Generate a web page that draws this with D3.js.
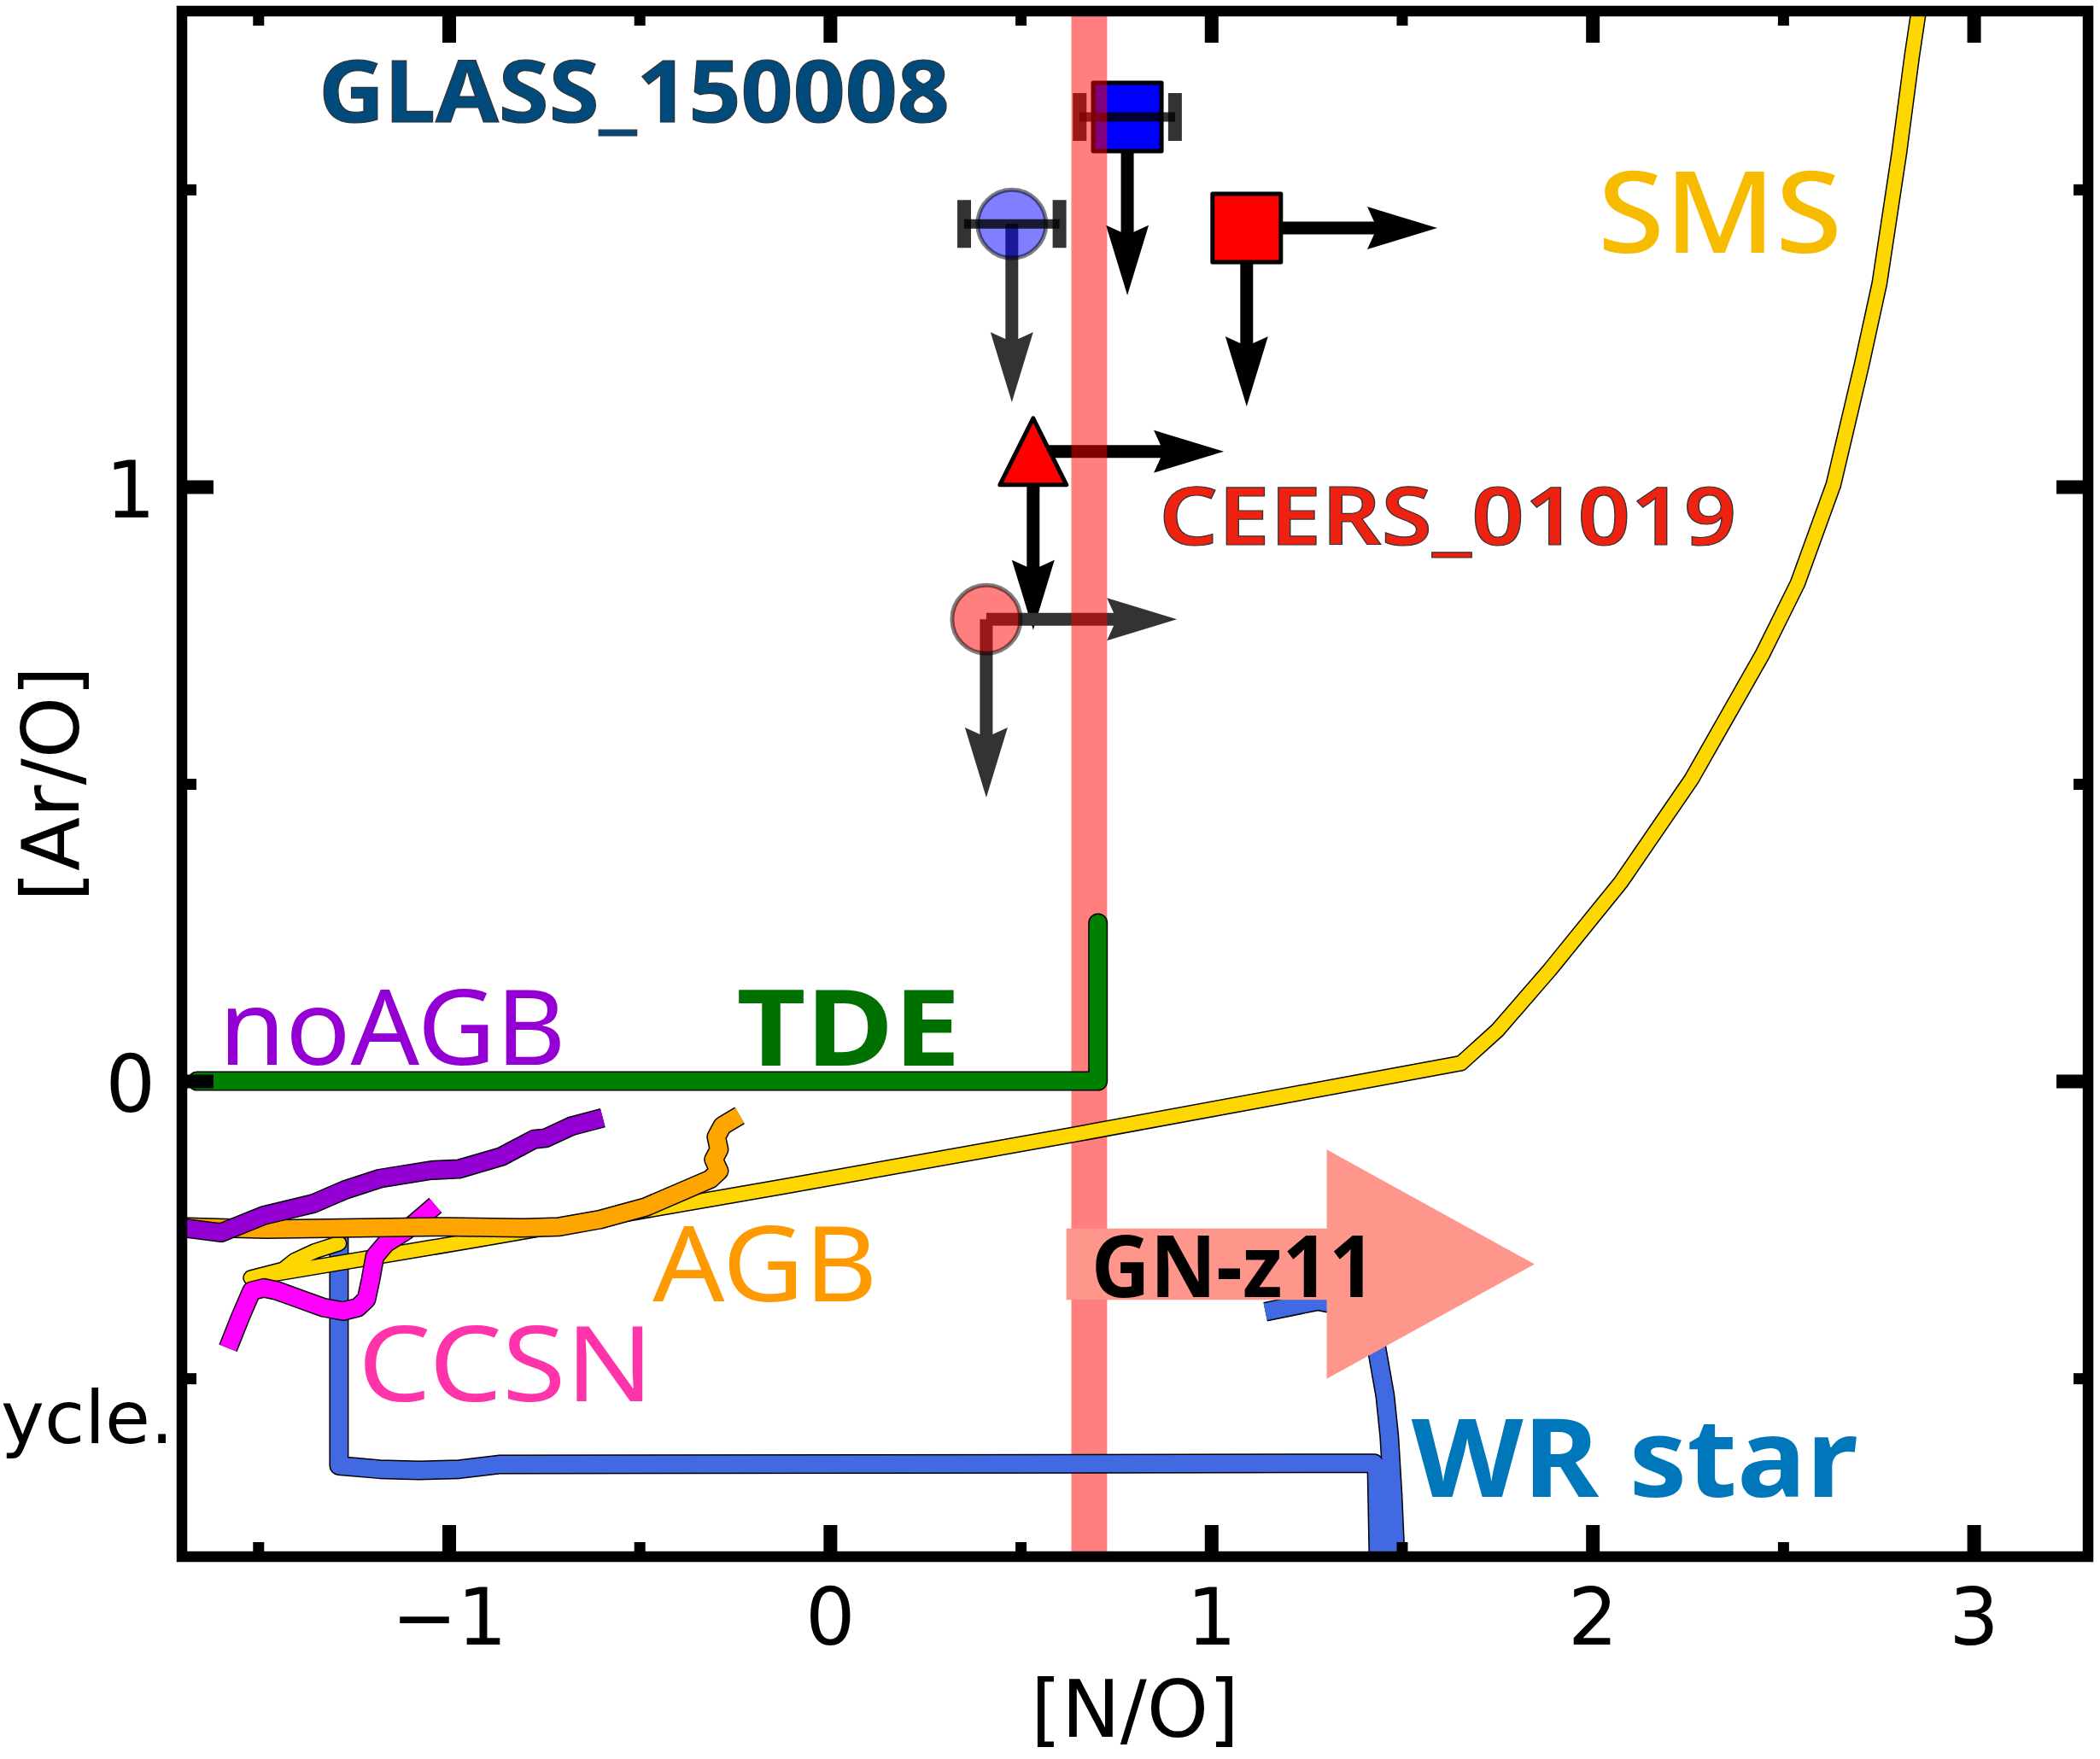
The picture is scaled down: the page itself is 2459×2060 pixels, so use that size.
<!DOCTYPE html>
<html>
<head>
<meta charset="utf-8">
<script src="https://cdn.jsdelivr.net/npm/d3@7"></script>
<style>
  html, body { margin: 0; padding: 0; background: #fff; }
  svg { display: block; }
</style>
</head>
<body>
<svg id="chart" width="2459" height="2060"></svg>
<script>
// ---- axis ticks ----
const xMajorTicks = [-1, 0, 1, 2, 3];
const xMinorTicks = [-1.5, -0.5, 0.5, 1.5, 2.5];
const yMajorTicks = [0, 1];
const yMinorTicks = [-0.5, 0.5, 1.5];

// ---- model tracks, [N/O] vs [Ar/O] ----
const tdeTrack = [[-1.66, 0], [0.703, 0], [0.703, 0.266]];

const smsTrack = [
  [-1.288, -0.273], [-1.351, -0.286], [-1.405, -0.302], [-1.434, -0.317], [-1.519, -0.331],
  [-0.925, -0.267], [-0.119, -0.177], [0.632, -0.091], [1.655, 0.030],
  [1.750, 0.085], [1.888, 0.187], [2.074, 0.334], [2.260, 0.508], [2.446, 0.718],
  [2.538, 0.837], [2.632, 1.003], [2.706, 1.204], [2.753, 1.342], [2.805, 1.563],
  [2.838, 1.724], [2.856, 1.801], [2.868, 1.900]
];

const agbTrack = [
  [-1.72, -0.245], [-1.478, -0.249], [-1.001, -0.245], [-0.806, -0.247], [-0.710, -0.245],
  [-0.605, -0.233], [-0.484, -0.212], [-0.314, -0.165], [-0.291, -0.151], [-0.305, -0.132],
  [-0.291, -0.115], [-0.298, -0.094], [-0.282, -0.075], [-0.237, -0.058]
];

const noAgbTrack = [
  [-1.72, -0.245], [-1.597, -0.255], [-1.485, -0.226], [-1.355, -0.206], [-1.272, -0.183],
  [-1.181, -0.164], [-1.046, -0.150], [-0.974, -0.148], [-0.862, -0.127], [-0.777, -0.098],
  [-0.746, -0.096], [-0.679, -0.076], [-0.596, -0.062]
];

const ccsnTrack = [
  [-1.579, -0.449], [-1.546, -0.396], [-1.517, -0.353], [-1.485, -0.348], [-1.449, -0.353],
  [-1.389, -0.367], [-1.328, -0.381], [-1.277, -0.387], [-1.239, -0.381], [-1.216, -0.367],
  [-1.205, -0.334], [-1.194, -0.295], [-1.165, -0.273], [-1.113, -0.252], [-1.035, -0.209]
];

const wrTrack = [
  [-1.288, -0.25], [-1.288, -0.647], [-1.181, -0.653], [-1.078, -0.655], [-0.972, -0.653],
  [-0.869, -0.645], [1.427, -0.643], [1.434, -0.650], [1.440, -0.85], [1.485, -0.85],
  [1.483, -0.794], [1.476, -0.693], [1.467, -0.597], [1.456, -0.529], [1.434, -0.449],
  [1.400, -0.385], [1.280, -0.370], [1.142, -0.388]
];

// ---- GN-z11 ----
const gnz11Band = [0.633, 0.727];
const gnz11Arrow = { x0: 0.62, x1: 1.848, y: -0.308, body: 0.06, head: 0.193, headLen: 0.545 };

// ---- galaxies: [N/O], [Ar/O], N/O error, limits ----
const obsNames   = ["GLASS_150008", "GLASS_150008", "CEERS_01019", "CEERS_01019", "CEERS_01019"];
const obsNO      = [0.78, 0.477, 1.093, 0.533, 0.41];
const obsArO     = [1.622, 1.442, 1.435, 1.059, 0.777];
const obsNOerr   = [0.125, 0.125, 0, 0, 0];
const obsNOlower = [false, false, true, true, true];
const obsArOupper = [true, true, true, true, true];
const obsMarker  = ["square", "circle", "square", "triangle", "circle"];
const obsFill    = ["#0000ff", "rgba(0,0,255,0.5)", "#ff0000", "#ff0000", "rgba(255,0,0,0.5)"];
const obsEdge    = ["#000", "rgba(0,0,0,0.5)", "#000", "#000", "rgba(0,0,0,0.5)"];
const obsArrowColor = ["#000", "#333", "#000", "#000", "#333"];
const limitLenNO = 0.5;
const limitLenArO = 0.3;

// ---- scales ----
const plot = { left: 213, right: 2445, top: 13, bottom: 1823 };
const x = d3.scaleLinear().domain([-1.7, 3.3]).range([plot.left, plot.right]);
const y = d3.scaleLinear().domain([-0.8, 1.8]).range([plot.bottom, plot.top]);

const svg = d3.select("#chart");
svg.append("rect").attr("width", 2459).attr("height", 2060).attr("fill", "#fff");

svg.append("defs").append("clipPath").attr("id", "plot-clip")
  .append("rect")
  .attr("x", plot.left).attr("y", plot.top)
  .attr("width", plot.right - plot.left).attr("height", plot.bottom - plot.top);

const body = svg.append("g").attr("clip-path", "url(#plot-clip)");

// arrow outline with notched head, in pixels
function arrowPoints(x0, y0, x1, y1) {
  const L = Math.hypot(x1 - x0, y1 - y0);
  const ux = (x1 - x0) / L, uy = (y1 - y0) / L, nx = -uy, ny = ux;
  const hw = 7.5, W = 25, H = 82, notch = 8;
  const P = (a, b) => [x0 + ux * a + nx * b, y0 + uy * a + ny * b];
  return [P(0, hw), P(L - H + notch, hw), P(L - H, W), P(L, 0), P(L - H, -W), P(L - H + notch, -hw), P(0, -hw)];
}

const obs = obsNO.map((v, i) => ({
  name: obsNames[i], no: v, ar: obsArO[i], err: obsNOerr[i],
  lower: obsNOlower[i], upper: obsArOupper[i], marker: obsMarker[i],
  fill: obsFill[i], edge: obsEdge[i], arrow: obsArrowColor[i]
}));

// limit arrows (beneath the markers)
const arrowsG = body.append("g");
obs.forEach(d => {
  const cx = x(d.no), cy = y(d.ar);
  if (d.upper) {
    arrowsG.append("polygon")
      .attr("points", arrowPoints(cx, cy, cx, y(d.ar - limitLenArO)).join(" "))
      .attr("fill", d.arrow);
  }
  if (d.lower) {
    arrowsG.append("polygon")
      .attr("points", arrowPoints(cx, cy, x(d.no + limitLenNO), cy).join(" "))
      .attr("fill", d.arrow);
  }
});

// markers
const markG = body.append("g");
obs.forEach(d => {
  const cx = x(d.no), cy = y(d.ar);
  let m;
  if (d.marker === "square") {
    m = markG.append("rect").attr("x", cx - 40).attr("y", cy - 40).attr("width", 80).attr("height", 80);
  } else if (d.marker === "circle") {
    m = markG.append("circle").attr("cx", cx).attr("cy", cy).attr("r", 40);
  } else {
    const s = 39;
    m = markG.append("polygon").attr("points", [[cx, cy - s], [cx + s, cy + s], [cx - s, cy + s]].join(" "));
  }
  m.attr("fill", d.fill).attr("stroke", d.edge).attr("stroke-width", 5).attr("stroke-linejoin", "round");
});

// N/O error bars
const errG = body.append("g").attr("stroke", "rgba(0,0,0,0.8)");
obs.filter(d => d.err > 0).forEach(d => {
  const cy = y(d.ar), xl = x(d.no - d.err), xr = x(d.no + d.err);
  errG.append("line").attr("x1", xl).attr("x2", xr).attr("y1", cy).attr("y2", cy).attr("stroke-width", 11);
  [xl, xr].forEach(xc => {
    errG.append("line").attr("x1", xc).attr("x2", xc).attr("y1", cy - 28).attr("y2", cy + 28).attr("stroke-width", 16);
  });
});

// GN-z11 N/O band
body.append("rect")
  .attr("x", x(gnz11Band[0])).attr("width", x(gnz11Band[1]) - x(gnz11Band[0]))
  .attr("y", plot.top).attr("height", plot.bottom - plot.top)
  .attr("fill", "#ff0000").attr("fill-opacity", 0.5);

// model tracks
const line = d3.line().x(d => x(d[0])).y(d => y(d[1]));
function track(data, color, width, cap) {
  const g = body.append("g").attr("fill", "none").attr("stroke-linejoin", "round").attr("stroke-linecap", cap);
  g.append("path").attr("d", line(data)).attr("stroke", "#000").attr("stroke-width", width + 3);
  g.append("path").attr("d", line(data)).attr("stroke", color).attr("stroke-width", width);
}
track(wrTrack, "#4169e1", 20, "butt");
track(smsTrack, "#ffd700", 16, "round");
track(ccsnTrack, "#ff00ff", 20, "butt");
track(agbTrack, "#ffa500", 20, "butt");
track(noAgbTrack, "#9400d3", 20, "butt");
track(tdeTrack, "#008000", 20, "round");

// GN-z11 lower-limit arrow
const a = gnz11Arrow;
const hb = a.x1 - a.headLen;
body.append("polygon")
  .attr("points", [
    [a.x0, a.y + a.body], [hb, a.y + a.body], [hb, a.y + a.head], [a.x1, a.y],
    [hb, a.y - a.head], [hb, a.y - a.body], [a.x0, a.y - a.body]
  ].map(p => [x(p[0]), y(p[1])]).join(" "))
  .attr("fill", "#fe968b");

// text labels
const labels = [
  { text: "GLASS_150008", x: -1.335, y: 1.613, size: 100, weight: 700, color: "#004a7c", ink: 733, edge: true },
  { text: "CEERS_01019", x: 0.869, y: 0.902, size: 94, weight: 600, color: "#ee2211", ink: 671, edge: true },
  { text: "SMS", x: 2.023, y: 1.393, size: 132, weight: 500, color: "#f7bb00", ink: 278, edge: false },
  { text: "TDE", x: -0.237, y: 0.026, size: 123, weight: 700, color: "#007000", ink: 255, edge: false },
  { text: "noAGB", x: -1.595, y: 0.027, size: 123, weight: 400, color: "#9400d3", ink: 399, edge: false },
  { text: "AGB", x: -0.457, y: -0.371, size: 123, weight: 400, color: "#ff9900", ink: 256, edge: false },
  { text: "CCSN", x: -1.23, y: -0.538, size: 123, weight: 400, color: "#ff33aa", ink: 339, edge: false },
  { text: "WR star", x: 1.534, y: -0.699, size: 128, weight: 700, color: "#0077bb", ink: 515, edge: false },
  { text: "GN-z11", x: 0.692, y: -0.363, size: 101, weight: 700, color: "#000", ink: 327, edge: false }
];
const labelG = svg.append("g").attr("font-family", "'Noto Sans', 'Open Sans', sans-serif");
labels.forEach(l => {
  const t = labelG.append("text")
    .attr("x", x(l.x) - 0.03 * l.size).attr("y", y(l.y))
    .attr("font-size", l.size).attr("font-weight", l.weight)
    .attr("fill", l.color)
    .attr("textLength", l.ink + 0.06 * l.size).attr("lengthAdjust", "spacingAndGlyphs")
    .text(l.text);
  if (l.edge) t.attr("stroke", "#333").attr("stroke-width", 1.2);
});

// frame and ticks
const tickG = svg.append("g").attr("font-family", "'DejaVu Sans', sans-serif").attr("font-size", 92);
const fmt = d3.format("d");

const bottomMajor = d3.axisBottom(x).tickValues(xMajorTicks).tickSizeInner(-37).tickSizeOuter(0).tickPadding(38).tickFormat(fmt);
const bottomMinor = d3.axisBottom(x).tickValues(xMinorTicks).tickSizeInner(-17).tickSizeOuter(0).tickFormat("");
const topMajor = d3.axisTop(x).tickValues(xMajorTicks).tickSizeInner(-37).tickSizeOuter(0).tickFormat("");
const topMinor = d3.axisTop(x).tickValues(xMinorTicks).tickSizeInner(-17).tickSizeOuter(0).tickFormat("");
const leftMajor = d3.axisLeft(y).tickValues(yMajorTicks).tickSizeInner(-37).tickSizeOuter(0).tickPadding(31).tickFormat(fmt);
const leftMinor = d3.axisLeft(y).tickValues(yMinorTicks).tickSizeInner(-17).tickSizeOuter(0).tickFormat("");
const rightMajor = d3.axisRight(y).tickValues(yMajorTicks).tickSizeInner(-37).tickSizeOuter(0).tickFormat("");
const rightMinor = d3.axisRight(y).tickValues(yMinorTicks).tickSizeInner(-17).tickSizeOuter(0).tickFormat("");

function addAxis(axis, transform, width) {
  const g = tickG.append("g").attr("transform", transform).call(axis);
  g.select(".domain").remove();
  g.selectAll(".tick line").attr("stroke", "#000").attr("stroke-width", width);
  g.selectAll(".tick text").attr("fill", "#000").attr("font-size", 92).attr("font-family", "'DejaVu Sans', sans-serif");
  return g;
}
addAxis(bottomMajor, `translate(0,${plot.bottom})`, 16);
addAxis(bottomMinor, `translate(0,${plot.bottom})`, 13);
addAxis(topMajor, `translate(0,${plot.top})`, 16);
addAxis(topMinor, `translate(0,${plot.top})`, 13);
const lg = addAxis(leftMajor, `translate(${plot.left},0)`, 16);
lg.selectAll(".tick text").attr("dy", "0.39em");
addAxis(leftMinor, `translate(${plot.left},0)`, 13);
addAxis(rightMajor, `translate(${plot.right},0)`, 16);
addAxis(rightMinor, `translate(${plot.right},0)`, 13);

svg.append("rect")
  .attr("x", plot.left).attr("y", plot.top)
  .attr("width", plot.right - plot.left).attr("height", plot.bottom - plot.top)
  .attr("fill", "none").attr("stroke", "#000").attr("stroke-width", 12.5)
  .attr("stroke-linejoin", "miter");

// axis titles
svg.append("text")
  .attr("x", (plot.left + plot.right) / 2).attr("y", 2034)
  .attr("text-anchor", "middle")
  .attr("font-family", "'DejaVu Sans', sans-serif").attr("font-size", 92)
  .text("[N/O]");
svg.append("text")
  .attr("transform", `translate(92,${(plot.top + plot.bottom) / 2}) rotate(-90)`)
  .attr("text-anchor", "middle")
  .attr("font-family", "'DejaVu Sans', sans-serif").attr("font-size", 92)
  .text("[Ar/O]");

// tail of a neighbouring caption line
svg.append("text")
  .attr("x", 1).attr("y", 1690)
  .attr("text-anchor", "start")
  .attr("font-family", "'DejaVu Sans', sans-serif").attr("font-size", 86)
  .text("ycle.");
</script>
</body>
</html>
